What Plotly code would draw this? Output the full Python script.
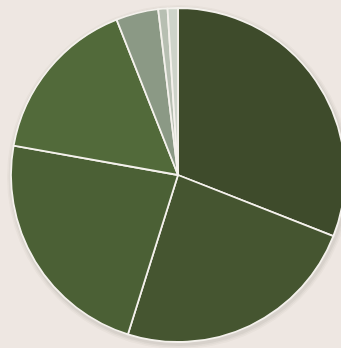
import plotly.graph_objects as go

# Slice data, clockwise from 12 o'clock
categories = ["A", "B", "C", "D", "E", "F", "G"]
values = [31.0, 23.9, 23.0, 16.2, 4.1, 0.9, 1.0]
colors = ["#3e4b2b", "#455530", "#4b6035", "#526a3a", "#8b9985", "#b7bfb2", "#cdd3c9"]

VIEW_W = 341
W, H = 346, 348            # slightly wider canvas; the right edge of the disc is clipped
cx, cy, r = 178, 175, 167  # pie centre and radius in pixels

dom_x = [(cx - r) / W, (cx + r) / W]
dom_y = [(H - cy - r) / H, (H - cy + r) / H]

fig = go.Figure()
fig.add_trace(go.Pie(
    labels=categories,
    values=values,
    sort=False,
    direction="clockwise",
    rotation=0,
    textinfo="none",
    hoverinfo="label+percent",
    marker=dict(colors=colors, line=dict(color="#f4f1ec", width=1.8)),
    domain=dict(x=dom_x, y=dom_y),
    showlegend=False,
))

# soft drop shadow under the disc
shadow = []
for d, a in [(5, 0.03), (3.5, 0.04), (2, 0.05)]:
    shadow.append(dict(
        type="circle", xref="paper", yref="paper", layer="below",
        x0=(cx - r - d + 1) / W, x1=(cx + r + d + 1) / W,
        y0=(H - cy - r - d - 2) / H, y1=(H - cy + r + d - 2) / H,
        fillcolor=f"rgba(60,50,40,{a})", line=dict(width=0),
    ))

fig.update_layout(
    width=W, height=H,
    margin=dict(l=0, r=0, t=0, b=0),
    paper_bgcolor="#eee7e2",
    plot_bgcolor="#eee7e2",
    shapes=shadow,
)

# hide scrollbars so the page shows only the visible window
fig.write_html(
    "out.html",
    post_script="document.documentElement.style.overflow='hidden';"
                "document.body.style.overflow='hidden';"
                "document.body.style.margin='0';"
                "document.body.style.background='#eee7e2';",
)
